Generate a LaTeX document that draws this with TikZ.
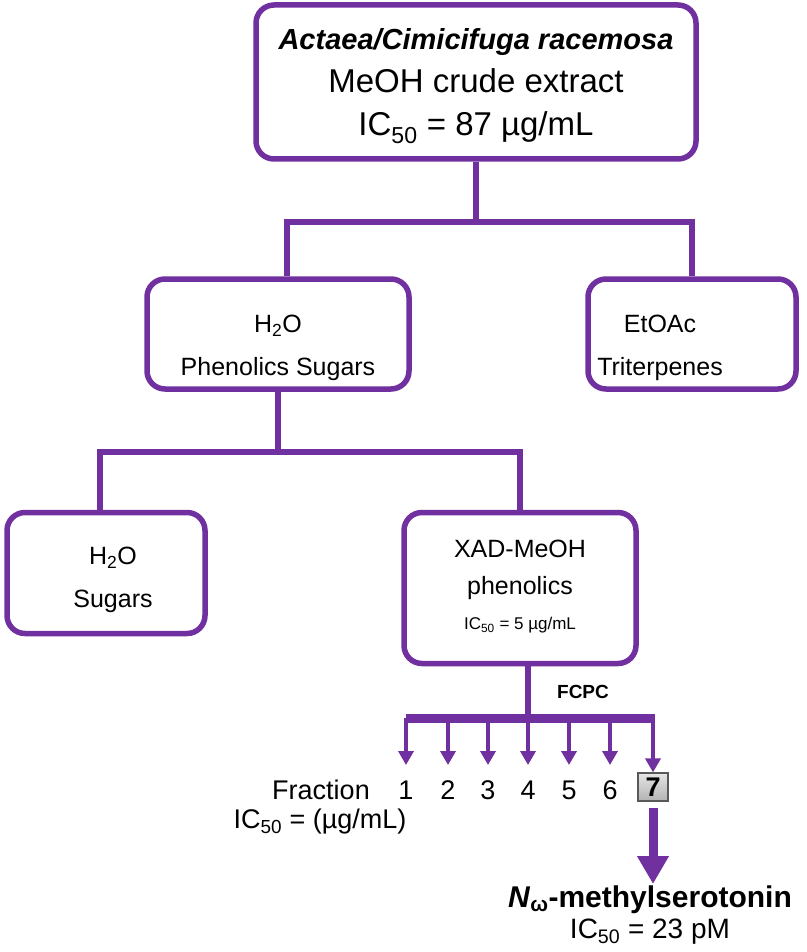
\documentclass[tikz,border=0pt]{standalone}
\usepackage{fontspec}
\setmainfont{Liberation Sans}
\usetikzlibrary{arrows.meta}
\definecolor{pur}{RGB}{112,48,160}
\begin{document}
\begin{tikzpicture}[x=1pt,y=-1pt,
 box/.style={draw=pur,line width=5.5pt,rounded corners=18pt,inner sep=0pt},
 txt/.style={align=center,inner sep=0pt,font=\fontsize{25}{43}\selectfont},
 ln/.style={draw=pur,line width=6pt},
 ar/.style={draw=pur,line width=3.5pt,-{Triangle[width=15pt,length=14pt]}},
 lab/.style={font=\fontsize{27}{34}\selectfont,inner sep=0pt}]
\useasboundingbox (0,0) rectangle (806,952);
\node[box,minimum width=440pt,minimum height=154pt] (top) at (476,82) {};
\node[txt,font=\fontsize{33}{43}\selectfont] (top-t) at (476,86) {{\fontsize{29}{43}\selectfont\textbf{\textit{Actaea/Cimicifuga racemosa}}}\\MeOH crude extract\\IC\textsubscript{50} = 87 µg/mL};
\node[box,minimum width=262pt,minimum height=110pt] (h2o) at (278,334) {};
\node[txt] (h2o-t) at (278,348) {H\textsubscript{2}O\\Phenolics Sugars};
\node[box,minimum width=208pt,minimum height=110pt] (et) at (692,334) {};
\node[txt] (et-t) at (660,348) {EtOAc\\Triterpenes};
\node[box,minimum width=198pt,minimum height=121pt] (sug) at (106,573) {};
\node[txt] (sug-t) at (113,580) {H\textsubscript{2}O\\Sugars};
\node[box,minimum width=232pt,minimum height=151pt] (xad) at (520,588) {};
\node[txt] (xad-t) at (520,587) {XAD-MeOH\\[-6pt]phenolics\\[-8pt]{\fontsize{17}{28}\selectfont IC\textsubscript{50} = 5 µg/mL}};
\coordinate (j1) at (476,222);
\draw[ln] (top.south) -- (j1);
\draw[ln] (h2o.north -| 287,0) |- (j1) -| (et.north);
\coordinate (j2) at (278,452);
\draw[ln] (h2o.south) -- (j2);
\draw[ln] (sug.north -| 100,0) |- (j2) -| (xad.north);
\coordinate (j3) at (528,718);
\draw[ln] (xad.south -| 528,0) -- (j3);
\draw[draw=pur,line width=9pt] (406,718) -- (655,718);
\node[font=\bfseries\fontsize{19}{24}\selectfont] (fc) at (583,692) {FCPC};
\node[lab] (fr) at (321,790) {Fraction};
\foreach \i/\x in {1/406,2/448,3/488,4/528,5/569,6/610}{
  \node[lab] (f\i) at (\x,790) {\i};
  \coordinate (s\i) at (\x,718);
  \draw[ar] (s\i) -- (\x,765);
}
\node[draw=gray!70!black,line width=1.2pt,top color=gray!20,bottom color=gray!60,minimum width=30pt,minimum height=28pt,inner sep=0pt,font=\bfseries\fontsize{27}{30}\selectfont] (f7) at (653,787) {7};
\coordinate (s7) at (653,718);
\draw[ar] (s7) -- (f7.north);
\node[lab] (ic) at (320,822) {IC\textsubscript{50} = (µg/mL)};
\node[inner sep=0pt,font=\bfseries\fontsize{30}{36}\selectfont] (nm) at (650,900) {\textit{N}\textsubscript{ω}-methylserotonin};
\node[inner sep=0pt,font=\fontsize{28}{36}\selectfont] (ic2) at (650,932) {IC\textsubscript{50} = 23 pM};
\draw[draw=pur,line width=9pt,-{Triangle[width=30pt,length=28pt]}] (653,808) -- (653,884);
\end{tikzpicture}
\end{document}
